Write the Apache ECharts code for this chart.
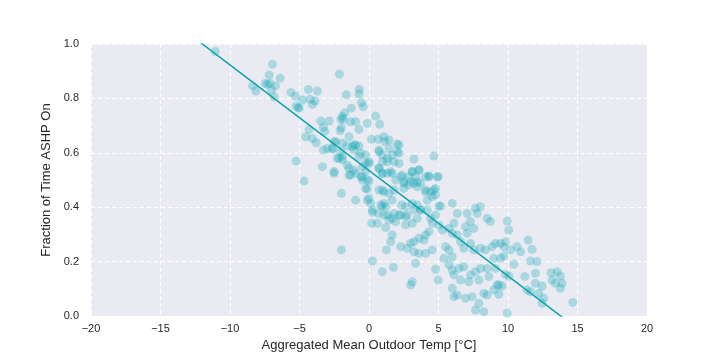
<!DOCTYPE html>
<html>
<head>
<meta charset="utf-8">
<script src="https://cdn.jsdelivr.net/npm/echarts@6/dist/echarts.min.js"></script>
<style>html,body{margin:0;padding:0;background:#fff}#c{width:720px;height:360px}</style>
</head>
<body>
<div id="c"></div>
<script>
// Scatter observations: temperature (°C) and fraction of time ASHP on
const tempX = [
-11.06,-6.95,-7.18,-6.39,-7.47,-7.31,-7.13,-6.73,-8.38,-8.14,-7.02,-6.82,-5.62,-5.29,-5.24,-5.08,-5.24,
-2.13,-4.36,-3.71,-0.70,-0.72,-4.79,-4.24,-3.88,-4.07,-1.63,-0.55,-0.41,-1.27,-5.03,-1.75,-1.92,-2.03,-1.85,
0.48,-1.34,-0.96,-3.47,-2.87,-0.12,0.77,-1.99,-2.08,-0.72,-3.28,-3.18,-4.31,-4.55,-4.07,-3.79,
0.17,0.65,1.08,1.13,1.44,2.03,-2.39,-1.92,-1.56,-1.20,-0.96,-0.72,-1.08,-3.28,-2.99,-2.63,-2.16,-1.92,
-0.60,-0.24,0.00,0.72,0.96,1.32,1.67,1.80,-3.35,-1.56,-1.44,-1.08,-0.48,-0.24,0.72,0.96,1.56,-2.51,-1.44,-0.60,
2.16,2.16,2.16,3.23,4.67,3.11,3.59,2.39,2.87,3.35,4.07,4.31,4.98,
-4.67,-1.99,-0.96,-0.48,0.00,-0.12,0.72,1.08,1.44,0.00,0.12,0.84,1.08,1.20,1.67,0.24,0.67,1.32,1.80,1.44,1.92,
0.19,0.60,1.20,1.67,1.56,-1.99,1.25,0.24,1.75,0.96,
2.51,2.87,3.23,3.47,4.07,4.43,4.67,4.79,4.55,2.35,2.63,3.11,3.47,3.71,4.19,5.15,5.99,
6.35,7.06,7.66,8.02,7.78,8.50,8.74,2.28,2.75,3.11,3.47,2.63,4.43,4.55,4.31,4.07,
5.03,5.27,5.75,5.99,6.35,6.11,6.94,7.30,7.54,7.06,3.59,3.95,3.23,3.00,
2.28,2.75,3.23,3.59,4.07,4.55,5.51,5.75,5.39,5.99,6.59,6.82,7.30,7.54,8.02,8.38,8.86,9.10,8.98,9.10,
3.35,4.79,4.98,3.11,3.00,5.75,5.99,6.11,6.47,6.82,7.30,7.66,7.90,8.62,8.50,8.02,6.59,7.18,
5.99,6.11,6.35,6.94,7.42,8.26,8.50,8.98,9.22,7.90,7.66,8.26,
9.94,10.06,9.46,9.82,9.70,10.18,10.65,10.90,11.45,11.73,9.46,9.70,10.42,11.61,12.09,9.82,10.06,9.34,9.58,9.34,
11.21,11.97,11.97,12.45,12.21,11.37,11.61,12.57,12.45,13.10,13.53,13.77,13.17,13.41,13.89,13.77,14.66,9.94,
-1.44,1.44,-2.51,-2.63,-2.03,-1.08,-1.92,-2.28,-0.72,-0.24,0.00,0.72,0.96,1.32,2.03,
-2.51,-1.32,-0.96,-0.48,-0.12,0.72,0.96,1.32,1.67,1.92,2.28,2.51,3.00,3.11,3.59,3.71,4.31,4.91,
4.79,4.07,3.47,2.51,1.80,0.96,-0.24,-0.12,0.24,0.96,1.08,1.67,2.16,2.63,3.23,3.71,4.19,5.03,4.79
];
const fracY = [
0.972,0.926,0.886,0.874,0.855,0.852,0.855,0.846,0.846,0.827,0.831,0.806,0.822,0.809,0.772,0.766,0.570,
0.889,0.833,0.827,0.833,0.816,0.794,0.797,0.790,0.778,0.813,0.784,0.769,0.764,0.764,0.747,0.733,0.724,0.723,
0.735,0.714,0.714,0.717,0.717,0.708,0.705,0.692,0.681,0.686,0.694,0.678,0.686,0.659,0.653,0.637,
0.650,0.650,0.659,0.641,0.616,0.632,0.641,0.635,0.625,0.622,0.629,0.625,0.610,0.610,0.616,0.613,0.580,0.574,
0.598,0.592,0.567,0.610,0.592,0.580,0.592,0.567,0.549,0.555,0.543,0.537,0.549,0.531,0.543,0.525,0.531,0.525,0.518,0.512,
0.629,0.598,0.561,0.577,0.588,0.531,0.537,0.518,0.512,0.512,0.512,0.515,0.512,
0.496,0.451,0.426,0.500,0.496,0.467,0.463,0.457,0.451,0.433,0.414,0.408,0.414,0.402,0.426,0.381,0.377,0.371,0.377,0.353,0.347,
0.341,0.341,0.325,0.298,0.273,0.243,0.243,0.202,0.179,0.163,
0.488,0.482,0.488,0.494,0.463,0.457,0.463,0.445,0.439,0.408,0.402,0.414,0.408,0.390,0.390,0.404,0.414,
0.377,0.377,0.396,0.402,0.377,0.359,0.347,0.371,0.371,0.341,0.359,0.335,0.359,0.341,0.310,0.298,
0.335,0.316,0.322,0.304,0.298,0.341,0.328,0.347,0.322,0.304,0.286,0.279,0.273,0.267,
0.255,0.249,0.236,0.230,0.230,0.243,0.255,0.243,0.212,0.218,0.273,0.249,0.267,0.243,0.249,0.243,0.255,0.267,0.212,0.175,
0.194,0.172,0.132,0.126,0.114,0.188,0.169,0.151,0.175,0.181,0.151,0.163,0.132,0.145,0.175,0.175,0.132,0.126,
0.102,0.071,0.077,0.065,0.071,0.083,0.077,0.096,0.114,0.047,0.022,0.016,
0.349,0.316,0.267,0.273,0.255,0.243,0.255,0.236,0.279,0.245,0.212,0.221,0.190,0.202,0.200,0.153,0.147,0.114,0.110,0.080,
0.145,0.157,0.120,0.110,0.083,0.096,0.089,0.065,0.047,0.159,0.163,0.147,0.132,0.120,0.120,0.102,0.050,0.010,
0.659,0.647,0.641,0.617,0.604,0.629,0.586,0.580,0.586,0.561,0.561,0.604,0.567,0.567,0.604,
0.531,0.518,0.525,0.512,0.500,0.543,0.525,0.525,0.525,0.500,0.512,0.494,0.494,0.531,0.537,0.488,0.512,0.512,
0.469,0.457,0.475,0.469,0.463,0.463,0.469,0.426,0.390,0.402,0.371,0.359,0.371,0.365,0.390,0.390,0.426,0.404,0.371
];
// Fitted regression line endpoints (at the x-axis limits)
const fitX = [-20, 20];
const fitY = [1.311, -0.241];
// Axis ticks
const xTicks = [-20, -15, -10, -5, 0, 5, 10, 15, 20];
const yTicks = [0.0, 0.2, 0.4, 0.6, 0.8, 1.0];

const pts = tempX.map((x, i) => [x, fracY[i]]);
const fit = fitX.map((x, i) => [x, fitY[i]]);
const FONT = '"Liberation Sans", Arial, sans-serif';
const chart = echarts.init(document.getElementById('c'), null, {renderer: 'canvas'});
chart.setOption({
  animation: false,
  backgroundColor: '#ffffff',
  grid: {left: 91, right: 73, top: 44, bottom: 44, show: true, backgroundColor: '#EAEAF2', borderWidth: 0},
  xAxis: {
    type: 'value', min: xTicks[0], max: xTicks[xTicks.length - 1], interval: 5,
    name: 'Aggregated Mean Outdoor Temp [°C]', nameLocation: 'middle', nameGap: 23,
    nameTextStyle: {color: '#262626', fontSize: 13, fontFamily: FONT},
    axisLine: {show: false}, axisTick: {show: false},
    axisLabel: {color: '#262626', fontSize: 11, fontFamily: FONT, margin: 7,
      formatter: v => (v < 0 ? '\u2212' + Math.abs(v) : String(v))},
    splitLine: {show: true, lineStyle: {color: '#ffffff', type: [4, 3], width: 1}}
  },
  yAxis: {
    type: 'value', min: yTicks[0], max: yTicks[yTicks.length - 1], interval: 0.2,
    name: 'Fraction of Time ASHP On', nameLocation: 'middle', nameGap: 33,
    nameTextStyle: {color: '#262626', fontSize: 13, fontFamily: FONT},
    axisLine: {show: false}, axisTick: {show: false},
    axisLabel: {color: '#262626', fontSize: 11, fontFamily: FONT, margin: 12,
      formatter: v => v.toFixed(1)},
    splitLine: {show: true, lineStyle: {color: '#ffffff', type: [4, 3], width: 1}}
  },
  series: [
    {type: 'scatter', data: pts, symbolSize: 9,
     itemStyle: {color: '#17a9b6', opacity: 0.3, borderWidth: 0}, z: 2},
    {type: 'line', data: fit, showSymbol: false, symbol: 'none', clip: true,
     lineStyle: {color: '#0aa3ae', width: 1.5}, z: 3}
  ]
});
</script>
</body>
</html>
